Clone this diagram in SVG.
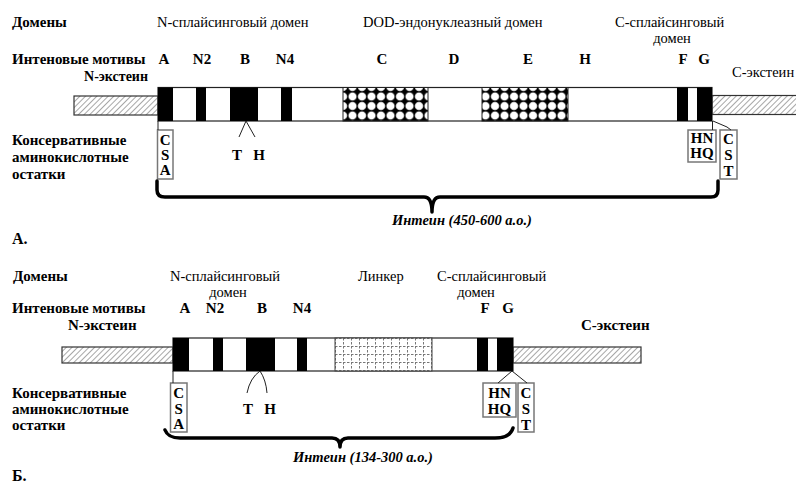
<svg xmlns="http://www.w3.org/2000/svg" width="796" height="486" viewBox="0 0 796 486">
  <defs>
    <!-- diagonal hatching for the exteins -->
    <pattern id="hatch" width="4" height="4" patternUnits="userSpaceOnUse" patternTransform="rotate(45)">
      <rect width="4" height="4" fill="#fff"/>
      <line x1="0" y1="0" x2="0" y2="4" stroke="#777" stroke-width="1.3"/>
    </pattern>
    <!-- black diamonds on white for the endonuclease blocks -->
    <pattern id="diamond" width="9.5" height="9.5" patternUnits="userSpaceOnUse" x="343" y="87">
      <rect width="9.5" height="9.5" fill="#000"/>
      <circle cx="0" cy="0" r="4.1" fill="#fff"/>
      <circle cx="9.5" cy="0" r="4.1" fill="#fff"/>
      <circle cx="0" cy="9.5" r="4.1" fill="#fff"/>
      <circle cx="9.5" cy="9.5" r="4.1" fill="#fff"/>
    </pattern>
    <!-- dashed grid for the linker -->
    <pattern id="grid" width="8" height="8" patternUnits="userSpaceOnUse" x="335" y="338">
      <rect width="8" height="8" fill="#fff"/>
      <path d="M0,0.5 H8 M0.5,0 V8" stroke="#777" stroke-width="1" stroke-dasharray="2.5,1.5" fill="none"/>
    </pattern>
  </defs>
  <style>
    text { font-family: "Liberation Serif", "Times New Roman", serif; fill: #000; }
    .lbl { font-size: 15px; font-weight: bold; }
    .dom { font-size: 14.5px; }
    .mot { font-size: 15px; font-weight: bold; text-anchor: middle; }
    .res { font-size: 15px; font-weight: bold; text-anchor: middle; }
    .cap { font-size: 14.5px; font-weight: bold; font-style: italic; }
    .panel { font-size: 16px; font-weight: bold; }
    .bar { fill: #fff; stroke: #222; stroke-width: 1.2; }
    .ext { fill: url(#hatch); stroke: #333; stroke-width: 1.2; }
    .blk { fill: #000; }
    .box { fill: #fff; stroke: #777; stroke-width: 1.5; }
    .lnk { stroke: #222; stroke-width: 1; fill: none; }
    .brace { stroke: #000; stroke-width: 3.5; fill: none; stroke-linecap: round; stroke-linejoin: round; }
  </style>

  <!-- ===================== Panel A ===================== -->
  <g id="a-labels">
    <text class="lbl" x="12" y="27">Домены</text>
    <text class="dom" x="157" y="27">N-сплайсинговый домен</text>
    <text class="dom" x="363" y="27">DOD-эндонуклеазный домен</text>
    <text class="dom" x="615" y="27">C-сплайсинговый</text>
    <text class="dom" x="672" y="43" text-anchor="middle">домен</text>
    <text class="lbl" x="12" y="64">Интеновые мотивы</text>
    <text class="lbl" x="148" y="81" text-anchor="end" style="font-size:14px">N-экстеин</text>
    <text class="dom" x="732" y="77">C-экстеин</text>
    <text class="lbl" x="12" y="145">Консервативные</text>
    <text class="lbl" x="12" y="162">аминокислотные</text>
    <text class="lbl" x="12" y="179">остатки</text>
    <text class="panel" x="12" y="244">А.</text>
  </g>

  <g id="a-motifs">
    <text class="mot" x="164" y="64">A</text>
    <text class="mot" x="202" y="64">N2</text>
    <text class="mot" x="245" y="64">B</text>
    <text class="mot" x="285" y="64">N4</text>
    <text class="mot" x="382" y="64">C</text>
    <text class="mot" x="454" y="64">D</text>
    <text class="mot" x="528" y="64">E</text>
    <text class="mot" x="585" y="64">H</text>
    <text class="mot" x="683" y="64">F</text>
    <text class="mot" x="704" y="64">G</text>
  </g>

  <g id="a-n-extein">
    <rect class="ext" x="74" y="96" width="84" height="19"/>
  </g>
  <g id="a-c-extein">
    <rect class="ext" x="712" y="95.5" width="86" height="19"/>
  </g>

  <g id="a-intein">
    <rect class="bar" x="158" y="87.5" width="554" height="33.5"/>
    <rect class="blk" x="158" y="87.5" width="15" height="33.5"/>
    <rect class="blk" x="196" y="87.5" width="10" height="33.5"/>
    <rect class="blk" x="230" y="87.5" width="28" height="33.5"/>
    <rect class="blk" x="281" y="87.5" width="11" height="33.5"/>
    <rect x="343" y="87.5" width="85" height="33.5" fill="url(#diamond)" stroke="#222" stroke-width="1"/>
    <rect x="482" y="87.5" width="86" height="33.5" fill="url(#diamond)" stroke="#222" stroke-width="1"/>
    <rect class="blk" x="677" y="87.5" width="11" height="33.5"/>
    <rect class="blk" x="697" y="87.5" width="15" height="33.5"/>
  </g>

  <g id="a-csa">
    <rect class="box" x="157.5" y="130" width="15.5" height="49"/>
    <text class="res" x="165.2" y="145">C</text>
    <text class="res" x="165.2" y="160">S</text>
    <text class="res" x="165.2" y="175">A</text>
  </g>
  <g id="a-th">
    <text class="res" x="237" y="160">T</text>
    <text class="res" x="259" y="160">H</text>
  </g>
  <g id="a-hn">
    <rect class="box" x="688" y="130" width="28" height="32"/>
    <text class="res" x="702" y="143">HN</text>
    <text class="res" x="702" y="158">HQ</text>
  </g>
  <g id="a-cst">
    <rect class="box" x="720" y="130" width="17" height="49"/>
    <text class="res" x="728.5" y="144">C</text>
    <text class="res" x="728.5" y="160">S</text>
    <text class="res" x="728.5" y="176">T</text>
  </g>

  <g id="a-connectors">
    <line class="lnk" x1="158" y1="121" x2="158" y2="130" stroke="#777"/>
    <polyline class="lnk" points="239,137 246,121 255,137"/>
    <line class="lnk" x1="712.5" y1="121" x2="712.5" y2="130"/>
    <polyline class="lnk" points="713,121 727,127 731,130"/>
    <path class="brace" d="M157,181 L157,190 Q157,197 165,197 L424,197 Q432,197 432,212 Q432,197 440,197 L711,197 Q718,197 718,190 L718,181"/>
  </g>
  <text class="cap" x="392" y="225">Интеин (450-600 а.о.)</text>

  <!-- ===================== Panel B ===================== -->
  <g id="b-labels">
    <text class="lbl" x="13" y="281">Домены</text>
    <text class="dom" x="170" y="281">N-сплайсинговый</text>
    <text class="dom" x="228" y="297" text-anchor="middle">домен</text>
    <text class="dom" x="358" y="281">Линкер</text>
    <text class="dom" x="437" y="281">C-сплайсинговый</text>
    <text class="dom" x="476" y="297" text-anchor="middle">домен</text>
    <text class="lbl" x="12" y="313">Интеновые мотивы</text>
    <text class="lbl" x="68" y="330">N-экстеин</text>
    <text class="lbl" x="581" y="330">C-экстеин</text>
    <text class="lbl" x="12" y="398">Консервативные</text>
    <text class="lbl" x="12" y="414">аминокислотные</text>
    <text class="lbl" x="12" y="430">остатки</text>
    <text class="panel" x="12" y="481">Б.</text>
  </g>

  <g id="b-motifs">
    <text class="mot" x="185" y="313">A</text>
    <text class="mot" x="215" y="313">N2</text>
    <text class="mot" x="262" y="313">B</text>
    <text class="mot" x="302" y="313">N4</text>
    <text class="mot" x="485" y="313">F</text>
    <text class="mot" x="508" y="313">G</text>
  </g>

  <g id="b-n-extein">
    <rect class="ext" x="62" y="347" width="111" height="16"/>
  </g>
  <g id="b-c-extein">
    <rect class="ext" x="513" y="347" width="128" height="16"/>
  </g>

  <g id="b-intein">
    <rect class="bar" x="173" y="338" width="340" height="33" stroke="#555"/>
    <rect class="blk" x="173" y="338" width="16" height="33"/>
    <rect class="blk" x="213" y="338" width="10" height="33"/>
    <rect class="blk" x="246" y="338" width="29" height="33"/>
    <rect class="blk" x="297" y="338" width="10" height="33"/>
    <rect x="335" y="338" width="97" height="33" fill="url(#grid)" stroke="#444" stroke-width="1"/>
    <rect class="blk" x="477" y="338" width="11" height="33"/>
    <rect class="blk" x="497" y="338" width="16" height="33"/>
  </g>

  <g id="b-csa">
    <rect class="box" x="170.5" y="383" width="16.5" height="49"/>
    <text class="res" x="178.7" y="398">C</text>
    <text class="res" x="178.7" y="414">S</text>
    <text class="res" x="178.7" y="429">A</text>
  </g>
  <g id="b-th">
    <text class="res" x="248" y="414">T</text>
    <text class="res" x="270" y="414">H</text>
  </g>
  <g id="b-hn">
    <rect class="box" x="483" y="383" width="33" height="34"/>
    <text class="res" x="499.5" y="398">HN</text>
    <text class="res" x="499.5" y="414">HQ</text>
  </g>
  <g id="b-cst">
    <rect class="box" x="518" y="383" width="16" height="49"/>
    <text class="res" x="526" y="398">C</text>
    <text class="res" x="526" y="414">S</text>
    <text class="res" x="526" y="430">T</text>
  </g>

  <g id="b-connectors">
    <line class="lnk" x1="173" y1="371" x2="173" y2="383" stroke="#777"/>
    <path class="lnk" d="M247,393 Q250,378 260,371 Q266,380 267,393"/>
    <polyline class="lnk" points="498,383 512,371 527,383"/>
    <path class="brace" d="M165,430 Q168,438 180,438 L332,438 Q340,438 340,447 Q340,438 348,438 L495,438 Q510,438 513,428"/>
  </g>
  <text class="cap" x="293" y="462">Интеин (134-300 а.о.)</text>
</svg>
